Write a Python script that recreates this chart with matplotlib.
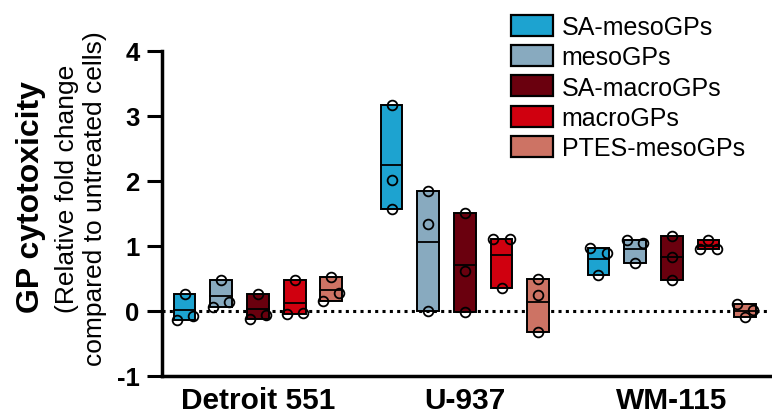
import matplotlib
matplotlib.use("Agg")
import matplotlib.pyplot as plt
from matplotlib.patches import Patch
import numpy as np

plt.rcParams['font.family'] = ['Liberation Sans', 'DejaVu Sans']

cell_lines = ["Detroit 551", "U-937", "WM-115"]
series = ["SA-mesoGPs", "mesoGPs", "SA-macroGPs", "macroGPs", "PTES-mesoGPs"]
colors = ["#1da3d0", "#88aabf", "#6a000e", "#d0000f", "#cd7364"]

# three replicates per cell line
sa_meso = [[0.26, -0.14, -0.08], [3.17, 2.02, 1.57], [0.97, 0.89, 0.55]]
meso = [[0.47, 0.06, 0.14], [1.85, 1.34, 0.00], [1.09, 1.04, 0.74]]
sa_macro = [[0.26, -0.13, -0.06], [1.50, 0.62, -0.01], [1.16, 0.83, 0.48]]
macro = [[0.47, -0.05, -0.03], [1.11, 1.11, 0.36], [0.95, 1.09, 0.95]]
ptes_meso = [[0.53, 0.16, 0.28], [0.49, 0.25, -0.33], [0.11, -0.10, 0.01]]
all_data = [sa_meso, meso, sa_macro, macro, ptes_meso]

yticks = [-1, 0, 1, 2, 3, 4]


def spread(vals, d, thr=0.15):
    # points that sit close together get pushed sideways (listed order)
    order = np.argsort(vals)
    clusters = [[order[0]]]
    for i in order[1:]:
        if vals[i] - vals[clusters[-1][-1]] < thr:
            clusters[-1].append(i)
        else:
            clusters.append([i])
    offs = np.zeros(len(vals))
    patterns = {1: [0], 2: [-d, d], 3: [-d, 0, d]}
    for c in clusters:
        c = sorted(c)
        for k, idx in enumerate(c):
            offs[idx] = patterns[len(c)][k]
    return offs


fig = plt.figure(figsize=(7.72, 4.14), dpi=100)
ax = fig.add_axes([0.2095, 0.0894, 0.7875, 0.785])

step = 0.1773
width = 0.105
x = np.arange(len(cell_lines))

ax.axhline(0, color="black", lw=2.2, linestyle=(0, (1, 1.4)), zorder=1)

for s, (data, col) in enumerate(zip(all_data, colors)):
    for g, vals in enumerate(data):
        vals = np.array(vals)
        xc = x[g] + (s - 2) * step
        lo, hi, mean = vals.min(), vals.max(), vals.mean()
        ax.bar(xc, hi - lo, bottom=lo, width=width, color=col,
               edgecolor="black", linewidth=1.4, zorder=2)
        ax.plot([xc - width / 2, xc + width / 2], [mean, mean],
                color="black", lw=1.3, zorder=3)
        ax.plot(xc + spread(vals, 0.039), vals, "o", ms=7, mfc="none",
                mec="black", mew=1.3, zorder=4)

ax.set_xlim(-0.465, 2.473)
ax.set_ylim(-1, 4)
ax.set_yticks(yticks)
ax.set_yticklabels([str(t) for t in yticks], fontsize=18.5, fontweight="bold")
ax.set_xticks(x)
ax.set_xticklabels(cell_lines, fontsize=21.5, fontweight="bold")
ax.tick_params(axis="y", length=11, width=2.2, pad=5)
ax.tick_params(axis="x", length=0, pad=7)
for side in ["top", "right"]:
    ax.spines[side].set_visible(False)
for side in ["left", "bottom"]:
    ax.spines[side].set_linewidth(2.5)

fig.text(0.040, 0.525, "GP cytotoxicity", rotation=90, fontsize=23,
         fontweight="bold", ha="center", va="center")
fig.text(0.087, 0.543, "(Relative fold change", rotation=90, fontsize=19,
         ha="center", va="center")
fig.text(0.123, 0.521, "compared to untreated cells)", rotation=90,
         fontsize=19, ha="center", va="center")

handles = [Patch(facecolor=c, edgecolor="black", linewidth=1.6) for c in colors]
ax.legend(handles, series, loc="upper left", bbox_to_anchor=(0.575, 1.112),
          frameon=False, fontsize=18, handlelength=1.65, handleheight=0.92,
          handletextpad=0.36, labelspacing=0.25, borderaxespad=0,
          borderpad=0)

fig.savefig("out.png", dpi=100)
